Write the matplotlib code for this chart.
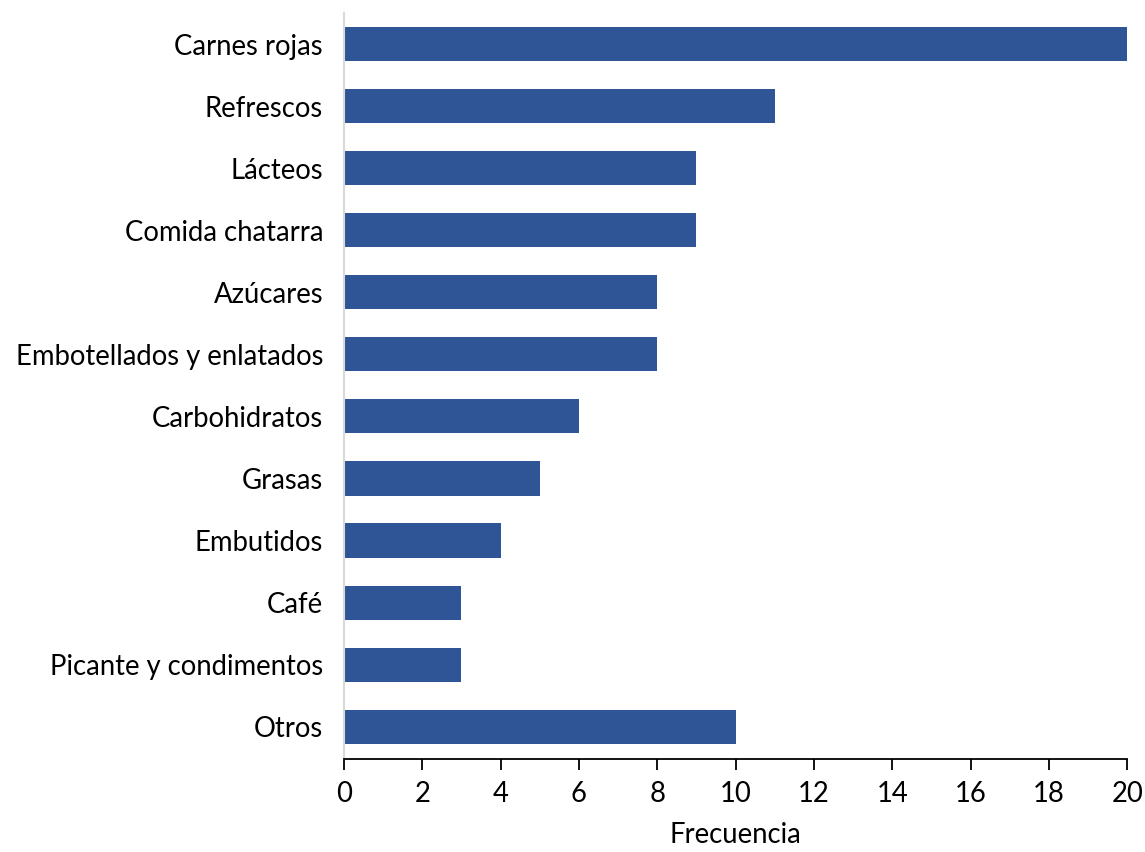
import matplotlib
matplotlib.use("Agg")
import matplotlib.pyplot as plt

categories = ["Carnes rojas", "Refrescos", "Lácteos", "Comida chatarra", "Azúcares",
              "Embotellados y enlatados", "Carbohidratos", "Grasas", "Embutidos", "Café",
              "Picante y condimentos", "Otros"]
values = [20, 11, 9, 9, 8, 8, 6, 5, 4, 3, 3, 10]
xticks = [0, 2, 4, 6, 8, 10, 12, 14, 16, 18, 20]

plt.rcParams['font.family'] = ['Lato', 'DejaVu Sans']

fig = plt.figure(figsize=(11.45, 8.52), dpi=100)
ax = fig.add_axes([0.3004, 0.1092, 0.6841, 0.8755])

ypos = list(range(len(categories)))
ax.barh(ypos, values, height=0.55, color="#2F5597")
ax.set_ylim(len(categories) - 0.48, -0.5)
ax.set_xlim(0, 20)
ax.set_yticks(ypos)
ax.set_yticklabels(categories, fontsize=19.8)
ax.set_xticks(xticks)
ax.set_xticklabels([str(t) for t in xticks], fontsize=19.8)
ax.tick_params(axis='y', length=0, pad=15)
ax.tick_params(axis='x', length=8, width=1.3, direction='out', pad=8, color='black')
for s in ['top', 'right']:
    ax.spines[s].set_visible(False)
ax.spines['left'].set_color('#D9D9D9')
ax.spines['left'].set_linewidth(1.5)
ax.spines['bottom'].set_color('black')
ax.spines['bottom'].set_linewidth(1.3)
ax.set_xlabel("Frecuencia", fontsize=19.8, labelpad=11)

fig.savefig("out.png", dpi=100)
